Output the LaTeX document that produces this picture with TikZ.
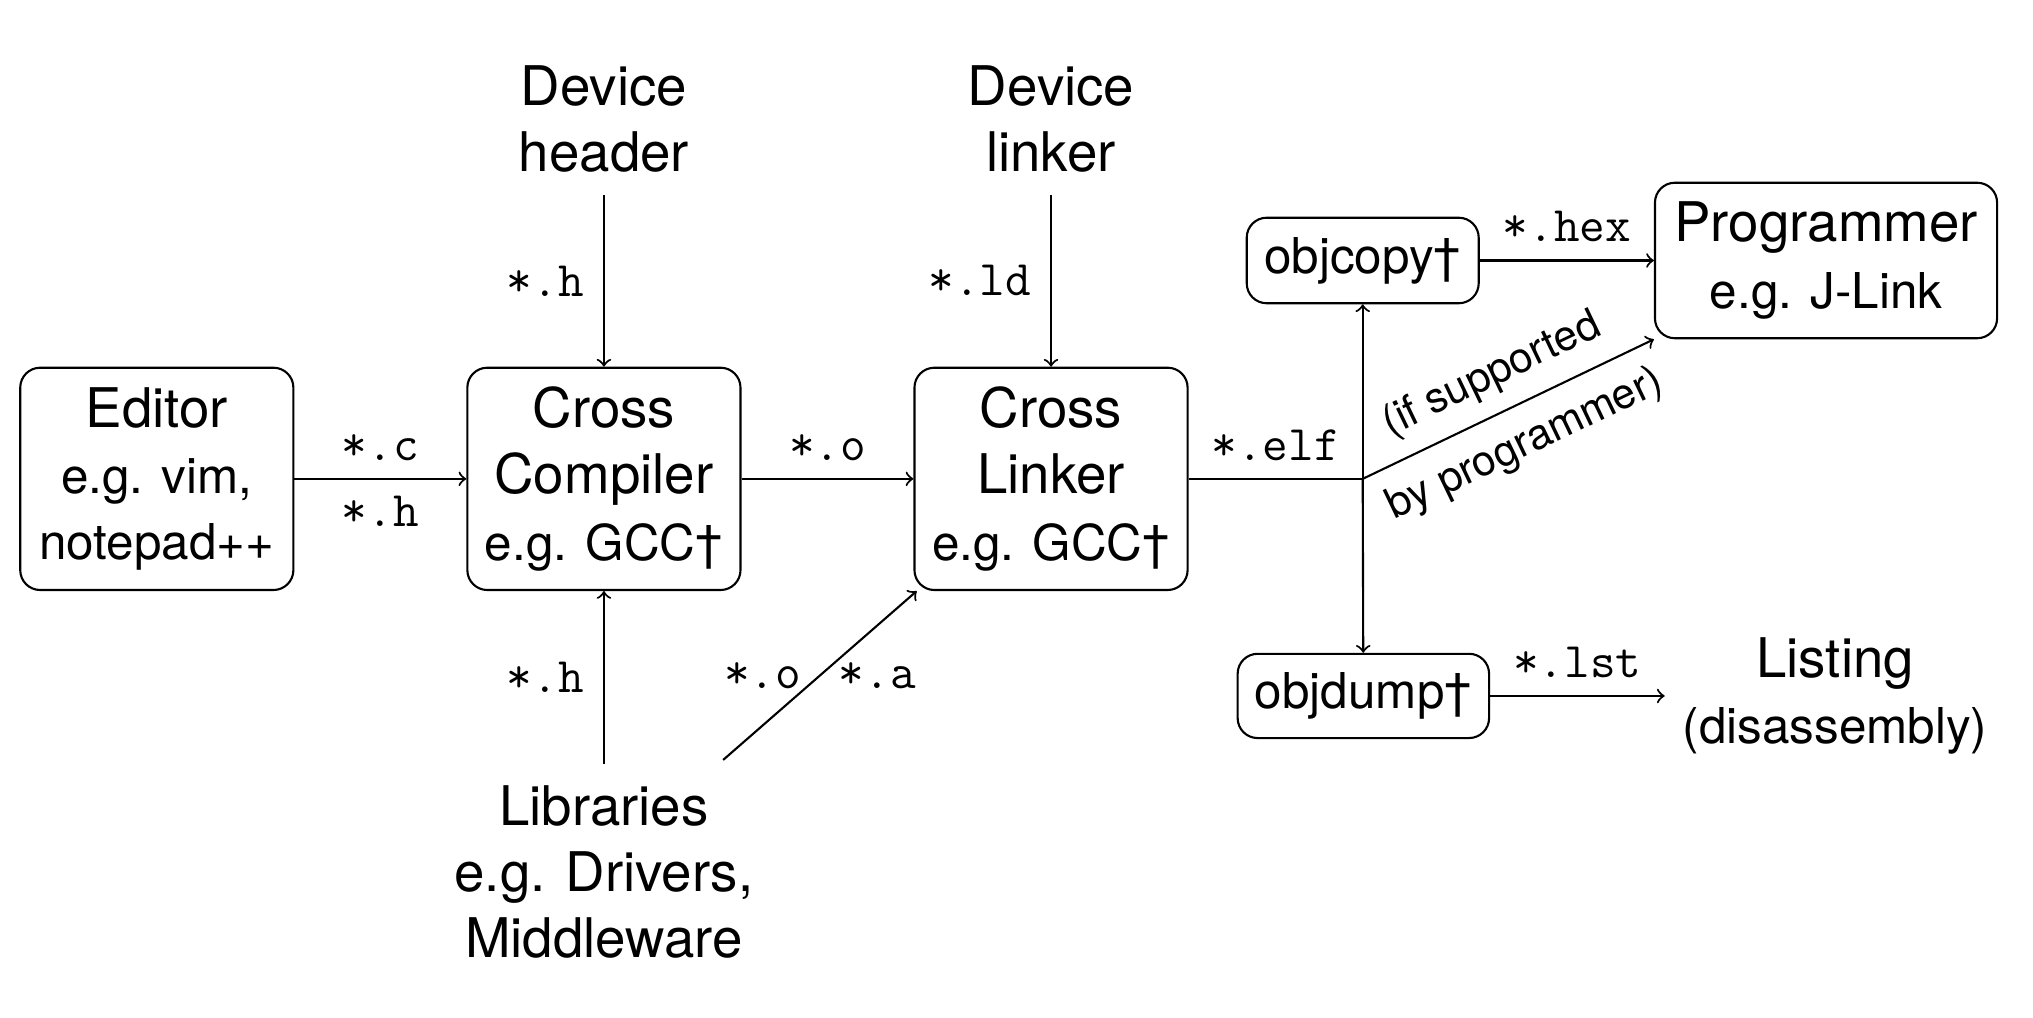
\documentclass[tikz,border=0pt]{standalone}
\usepackage{fontspec}
\setmainfont{TeX Gyre Heros}
\newcommand\subtxt[1]{{\fontsize{14.1}{18.9}\selectfont #1}}
\begin{document}
\begin{tikzpicture}[x=0.013cm,y=-0.013cm,
  every node/.style={font=\fontsize{15.6}{18.9}\selectfont, align=center},
  box/.style={draw, rounded corners=0.2cm, line width=0.6pt, inner sep=0pt},
  bigbox/.style={box, minimum width=2.74cm, minimum height=2.23cm},
  lbl/.style={font=\ttfamily\fontsize{14.2}{16}\selectfont},
  slab/.style={font=\fontsize{12.1}{14}\selectfont, sloped},
  conn/.style={line width=0.6pt},
  arr/.style={conn,->}]
\useasboundingbox (0,0) rectangle (1568.7,785.5);
\node[bigbox] (ed) at (121,369.5) {Editor\\\subtxt{e.g. vim,}\\\subtxt{notepad++}};
\node[bigbox] (cc) at (466,369.5) {Cross\\Compiler\\\subtxt{e.g. GCC†}};
\node[bigbox] (ln) at (811,369.5) {Cross\\Linker\\\subtxt{e.g. GCC†}};
\node[minimum height=1.508cm] (hdr) at (466,92) {Device\\header};
\node[minimum height=1.508cm] (ldf) at (811,92) {Device\\linker};
\node[minimum height=2.158cm] (lib) at (466,673) {Libraries\\e.g. Drivers,\\Middleware};
\node[box, minimum width=2.327cm, minimum height=0.858cm, font=\fontsize{14.1}{18.9}\selectfont] (oc) at (1051.5,201) {objcopy†};
\node[box, minimum width=3.432cm, minimum height=1.56cm] (pg) at (1409,201) {Programmer\\\subtxt{e.g. J-Link}};
\node[box, minimum width=2.522cm, minimum height=0.845cm, font=\fontsize{14.1}{18.9}\selectfont] (od) at (1052,537) {objdump†};
\node[inner sep=5pt] (lst) at (1416,537) {Listing\\\subtxt{(disassembly)}};
\coordinate (j) at (1051.5,369.5);
\coordinate (libr) at ([xshift=1.196cm,yshift=0.04cm]lib.north);
\coordinate (lnsw) at ([xshift=0.033cm]ln.south west);

\draw[arr] (ed) -- node[lbl,above=1.6pt]{*.c} node[lbl,below=1.2pt]{*.h} (cc);
\draw[arr] (cc) -- node[lbl,above=1.6pt]{*.o} (ln);
\draw[arr] (hdr) -- node[lbl,left=2.1pt]{*.h} (cc);
\draw[arr] (ldf) -- node[lbl,left=2.1pt]{*.ld} (ln);
\draw[arr] (lib) -- node[lbl,left=2.1pt]{*.h} (cc);
\draw[arr] (libr) -- node[lbl,left=1.8pt]{*.o} node[lbl,right=1.8pt]{*.a} (lnsw);
\draw[conn] (ln) -- node[lbl,above=1.6pt]{*.elf} (j);
\draw[arr] (j) -- (oc);
\draw[arr] (j) -- (od);
\draw[arr] (j) -- node[slab,above=1.3pt]{(if supported} node[slab,below=2pt]{by programmer)} (pg.south west);
\draw[arr] (oc) -- node[lbl,above=1.6pt]{*.hex} (pg);
\draw[arr] (od) -- node[lbl,above=1.6pt]{*.lst} (lst);
\end{tikzpicture}
\end{document}
